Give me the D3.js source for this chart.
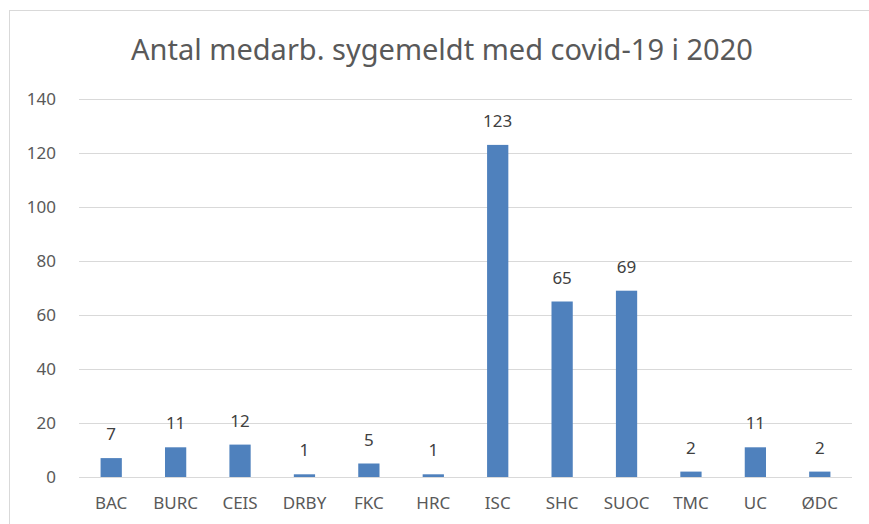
<!DOCTYPE html>
<html>
<head>
<meta charset="utf-8">
<script src="https://cdn.jsdelivr.net/npm/d3@7"></script>
<style>
  body { margin: 0; background: #fff; }
  svg { display: block; font-family: "Noto Sans", "Open Sans", sans-serif; }
</style>
</head>
<body>
<div id="chart"></div>
<script>
"use strict";
const categories = ["BAC", "BURC", "CEIS", "DRBY", "FKC", "HRC", "ISC", "SHC", "SUOC", "TMC", "UC", "ØDC"];
const values = [7, 11, 12, 1, 5, 1, 123, 65, 69, 2, 11, 2];
const yTicks = [0, 20, 40, 60, 80, 100, 120, 140];
const title = "Antal medarb. sygemeldt med covid-19 i 2020";

const width = 869, height = 524;
const margin = { top: 99, right: 17, bottom: 47, left: 79 };

const svg = d3.select("#chart")
  .append("svg")
  .attr("width", width)
  .attr("height", height);

// chart frame
svg.append("rect")
  .attr("x", 9.5)
  .attr("y", 10.5)
  .attr("width", width)
  .attr("height", height)
  .attr("fill", "#fff")
  .attr("stroke", "#d9d9d9");

svg.append("text")
  .attr("x", 442)
  .attr("y", 60)
  .attr("text-anchor", "middle")
  .attr("fill", "#595959")
  .style("font-size", "29px")
  .text(title);

const x = d3.scaleBand()
  .domain(categories)
  .range([margin.left, width - margin.right])
  .paddingInner(0.67)
  .paddingOuter(0.335);

const y = d3.scaleLinear()
  .domain([0, 140])
  .range([height - margin.bottom, margin.top]);

// gridlines
svg.append("g")
  .selectAll("line")
  .data(yTicks)
  .join("line")
  .attr("x1", margin.left)
  .attr("x2", width - margin.right)
  .attr("y1", d => Math.round(y(d)) + 0.5)
  .attr("y2", d => Math.round(y(d)) + 0.5)
  .attr("stroke", "#d9d9d9");

svg.append("g")
  .selectAll("text")
  .data(yTicks)
  .join("text")
  .attr("x", 56)
  .attr("y", d => y(d))
  .attr("dy", "0.35em")
  .attr("text-anchor", "end")
  .attr("fill", "#595959")
  .style("font-size", "17px")
  .text(d => d);

svg.append("g")
  .selectAll("rect")
  .data(values)
  .join("rect")
  .attr("x", (d, i) => x(categories[i]))
  .attr("width", x.bandwidth())
  .attr("y", d => y(d))
  .attr("height", d => y(0) - y(d))
  .attr("fill", "#4f81bd");

svg.append("g")
  .selectAll("text")
  .data(values)
  .join("text")
  .attr("x", (d, i) => x(categories[i]) + x.bandwidth() / 2)
  .attr("y", d => y(d) - 18)
  .attr("text-anchor", "middle")
  .attr("fill", "#404040")
  .style("font-size", "17px")
  .text(d => d);

svg.append("g")
  .selectAll("text")
  .data(categories)
  .join("text")
  .attr("x", d => x(d) + x.bandwidth() / 2)
  .attr("y", 509)
  .attr("text-anchor", "middle")
  .attr("fill", "#595959")
  .style("font-size", "17px")
  .text(d => d);
</script>
</body>
</html>
